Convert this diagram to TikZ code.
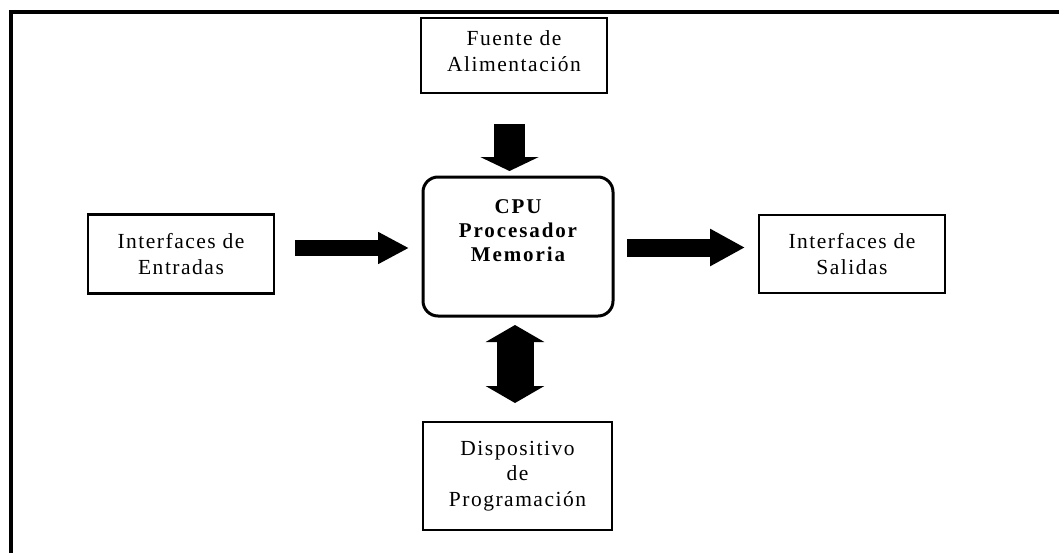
\documentclass[tikz,border=0pt]{standalone}
\usepackage{fontspec}
\setmainfont{Liberation Serif}[LetterSpace=7]
\usetikzlibrary{arrows.meta}
\begin{document}
\begin{tikzpicture}[x=1pt,y=-1pt,
  box/.style={draw, line width=2.8pt, align=center, inner sep=0pt,
    font=\fontsize{21.5}{25.5}\selectfont},
  cpubox/.style={draw, line width=3pt, rounded corners=15pt, inner sep=0pt},
  cputxt/.style={align=center, inner sep=0pt,
    font=\fontsize{21}{24}\selectfont\bfseries\addfontfeatures{LetterSpace=9}},
  harrow/.style={line width=16pt, -{Triangle[width=30pt,length=31pt]}},
  harrowb/.style={line width=18pt, -{Triangle[width=35pt,length=35pt]}},
  varrow/.style={line width=31pt, -{Triangle[width=58pt,length=14pt]}},
  darrow/.style={line width=37pt, {Triangle[width=58pt,length=17pt]}-{Triangle[width=58pt,length=17pt]}},
  frame/.style={line width=4pt, line cap=butt}]
\useasboundingbox (0,0) rectangle (1059,552);
\draw[frame] (11,560) -- (11,12) -- (1070,12);

\node[box, minimum width=186pt, minimum height=75pt, text depth=9pt] (fuente) at (514,55.5)
  {Fuente de\\Alimentación};
\node[cpubox, minimum width=190pt, minimum height=139pt] (cpu) at (518,246.5) {};
\node[cputxt, anchor=north] (cputext) at (518,199) {CPU\\Procesador\\Memoria};
\node[box, minimum width=186pt, minimum height=79pt] (entradas) at (181,254)
  {Interfaces de\\Entradas};
\node[box, minimum width=186pt, minimum height=78pt] (salidas) at (852,254)
  {Interfaces de\\Salidas};
\node[box, minimum width=189pt, minimum height=108pt, text depth=5pt] (disp) at (517.5,476)
  {Dispositivo\\de\\Programación};

\coordinate (inA) at (295,248);
\coordinate (inB) at (409,248);
\coordinate (outA) at (627,247.5);
\coordinate (outB) at (745,247.5);
\coordinate (pwA) at (509.5,124);
\coordinate (pwB) at (509.5,171);
\coordinate (prA) at (515,325);
\coordinate (prB) at (515,403);

\draw[harrow] (inA) -- (inB);
\draw[harrowb] (outA) -- (outB);
\draw[varrow] (pwA) -- (pwB);
\draw[darrow] (prA) -- (prB);
\end{tikzpicture}
\end{document}
